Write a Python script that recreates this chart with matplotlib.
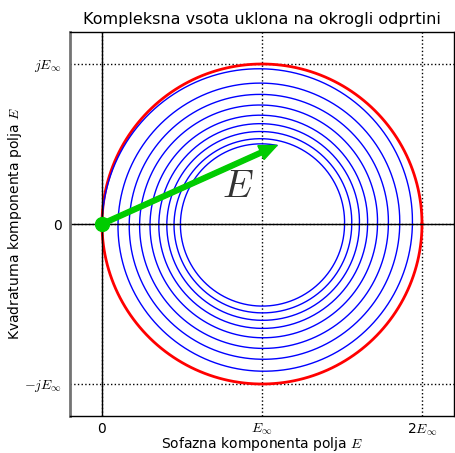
#!/usr/bin/env python3
import matplotlib
matplotlib.use('Agg')
import matplotlib.pyplot as plt
import numpy as np

plt.rcParams['mathtext.fontset'] = 'cm'

# Radius of the vibration spiral (relative to E_inf) after every half turn,
# i.e. at phase k*pi, k = 0, 1, 2, ...
half_turn_radii = [1.0, 0.940, 0.900, 0.861, 0.830, 0.790, 0.765, 0.722,
                   0.700, 0.660, 0.645, 0.609, 0.595, 0.561, 0.550, 0.516,
                   0.510]
end_phase = 16.56 * np.pi   # phase reached at the edge of the aperture
end_radius = 0.50

x_ticks = [0, 1, 2]
x_ticklabels = ['0', r'$E_\infty$', r'2$E_\infty$']
y_ticks = [-1, 0, 1]
y_ticklabels = [r'$-jE_\infty$', '0', r'$jE_\infty$']


def spiral():
    knots = list(np.arange(len(half_turn_radii)) * np.pi) + [end_phase]
    radii = list(half_turn_radii) + [end_radius]
    phase = np.linspace(0.0, end_phase, 4000)
    r = np.interp(phase, knots, radii)
    # sum of the zone contributions: E = E_inf * (1 - r * exp(-j*phase))
    return 1.0 - r * np.exp(-1j * phase)


fig = plt.figure(figsize=(4.55, 4.53), dpi=100)
ax = fig.add_axes([70 / 455, 37 / 453, 384 / 455, 384 / 453])

# reference circle for an unobstructed wave (no obliquity loss)
t = np.linspace(0, 2 * np.pi, 400)
ax.plot(1 + np.cos(t), np.sin(t), color='red', lw=2)

E = spiral()
ax.plot(E.real, E.imag, color='blue', lw=1)

ax.axhline(0, color='black', lw=1)
ax.axvline(0, color='black', lw=1)

ax.arrow(0, 0, E[-1].real, E[-1].imag, width=0.03, head_width=0.095,
         head_length=0.11, length_includes_head=True, color='#00cc00',
         zorder=5)
ax.plot([0], [0], 'o', color='#00cc00', markersize=10, zorder=6)
ax.text(0.85, 0.24, r'$E$', fontsize=28, color='#333333',
        ha='center', va='center')

ax.set_xlim(-0.2, 2.2)
ax.set_ylim(-1.2, 1.2)
ax.set_xticks(x_ticks)
ax.set_xticklabels(x_ticklabels)
ax.set_yticks(y_ticks)
ax.set_yticklabels(y_ticklabels)
ax.tick_params(length=0, labelsize=10)
ax.tick_params(axis='x', pad=4)
ax.tick_params(axis='y', pad=6)
ax.grid(True, color='black', linestyle=':', lw=1)

for side in ['top', 'bottom', 'right']:
    ax.spines[side].set_color('black')
    ax.spines[side].set_linewidth(1)
ax.spines['left'].set_color('0.45')
ax.spines['left'].set_linewidth(2)

ax.set_title('Kompleksna vsota uklona na okrogli odprtini', fontsize=11.5)
ax.set_xlabel('Sofazna komponenta polja $E$', fontsize=10, va='center')
ax.set_ylabel('Kvadraturna komponenta polja $E$', fontsize=10, va='center')
ax.xaxis.set_label_coords(0.5, -0.074)
ax.yaxis.set_label_coords(-0.143, 0.5)

fig.savefig('out.png', dpi=100)
